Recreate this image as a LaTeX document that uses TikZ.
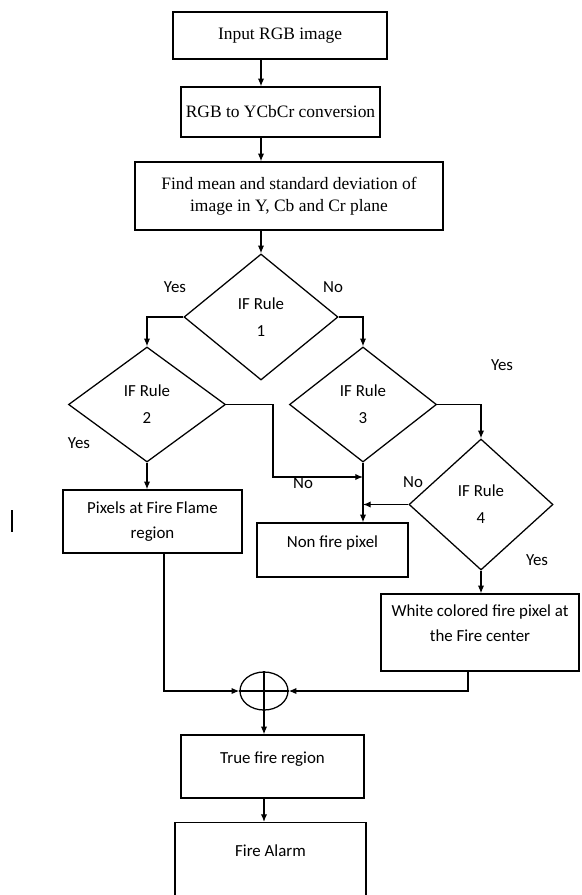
\documentclass[tikz,border=0pt]{standalone}
\usepackage{fontspec}
\setmainfont{Liberation Serif}
\newfontfamily\calibri{Carlito}
\usetikzlibrary{shapes.geometric,arrows.meta}

\begin{document}
\begin{tikzpicture}[
    x=0.025cm, y=-0.025cm,
    line width=0.9pt,
    serifbox/.style={draw, align=center, font=\fontsize{12.4}{15.6}\selectfont},
    sansbox/.style={draw, align=center, font=\calibri\fontsize{12}{17.8}\selectfont},
    ifrule/.style={draw, diamond, align=center, inner sep=0pt, font=\calibri\fontsize{12}{19.2}\selectfont},
    answer/.style={font=\calibri\fontsize{12}{14}\selectfont},
    relation/.style={-{Latex[length=5.5pt,width=4.5pt]}}
]
\useasboundingbox (0,0) rectangle (582,895);

% Processing steps
\node[serifbox, minimum width=5.35cm, minimum height=1.175cm] (input) at (280,35.5) {Input RGB image};
\node[serifbox, minimum width=4.825cm, minimum height=1.25cm] (convert) at (280.5,112) {RGB to YCbCr conversion};
\node[serifbox, minimum width=7.7cm, minimum height=1.7cm] (stats) at (289,196) {Find mean and standard deviation of\\image in Y, Cb and Cr plane};

% Decisions
\node[ifrule, minimum width=3.85cm, minimum height=3.15cm] (rule1) at (261,317) {IF Rule\\1};
\node[ifrule, minimum width=3.925cm, minimum height=2.875cm] (rule2) at (147,404.5) {IF Rule\\2};
\node[ifrule, minimum width=3.675cm, minimum height=2.875cm] (rule3) at (363,404.5) {IF Rule\\3};
\node[ifrule, minimum width=3.6cm, minimum height=3.275cm] (rule4) at (481,504.5) {IF Rule\\4};

% Pixel classes
\node[sansbox, minimum width=4.475cm, minimum height=1.575cm] (flame) at (152.5,521.5) {Pixels at Fire Flame\\region};
\node[sansbox, minimum width=3.775cm, minimum height=1.35cm, text depth=0.43cm] (nonfire) at (332.5,550) {Non fire pixel};
\node[sansbox, minimum width=4.95cm, minimum height=1.925cm, text depth=0.45cm] (white) at (480,632.5) {White colored fire pixel at\\the Fire center};

% Summing junction
\node[draw, ellipse, minimum width=1.2cm, minimum height=0.95cm, inner sep=0pt] (sum) at (264,691) {};
\draw (sum.north) -- (sum.south) (sum.west) -- (sum.east);

% Output
\node[sansbox, minimum width=4.575cm, minimum height=1.575cm, text depth=0.45cm] (truefire) at (272.5,766.5) {True fire region};
\node[sansbox, minimum width=4.775cm, anchor=north, text height=0.72cm, text depth=1.05cm] (alarm) at (270.5,822) {Fire Alarm};

% Answers
\node[answer] (yes1) at (175,287) {Yes};
\node[answer] (no1) at (333,287) {No};
\node[answer] (yes2) at (79,443) {Yes};
\node[answer] (no2) at (303,483) {No};
\node[answer] (yes3) at (502,365) {Yes};
\node[answer] (no4) at (413,482) {No};
\node[answer] (yes4) at (537,560) {Yes};

% Connectors
\coordinate (spine) at (261,0);
\draw[relation] (input.south -| spine) -- (convert.north -| spine);
\draw[relation] (convert.south -| spine) -- (stats.north -| spine);
\draw[relation] (stats.south -| spine) -- (rule1.north);
\draw[relation] (rule1.west) -| (rule2.north);
\draw[relation] (rule1.east) -| (rule3.north);
\draw[relation] (rule3.east) -| (rule4.north);
\draw[relation] (rule2.south) -- (rule2.south |- flame.north);
\coordinate (bend2) at (273,477);
\draw[relation] (rule2.east) -| (bend2) -- (bend2 -| rule3.south);
\draw[relation] (rule3.south) -- (rule3.south |- nonfire.north);
\draw[relation] (rule4.west) -- (rule4.west -| rule3.south);
\draw[relation] (rule4.south) -- (rule4.south |- white.north);
\draw[relation] ([xshift=0.29cm]flame.south) |- (sum.west);
\draw[relation] ([xshift=-0.3cm]white.south) |- (sum.east);
\draw[relation] (sum.south) -- (sum.south |- truefire.north);
\draw[relation] (sum.south |- truefire.south) -- (sum.south |- alarm.north);

% Stray mark
\draw (12,510) -- (12,532);

\end{tikzpicture}
\end{document}
